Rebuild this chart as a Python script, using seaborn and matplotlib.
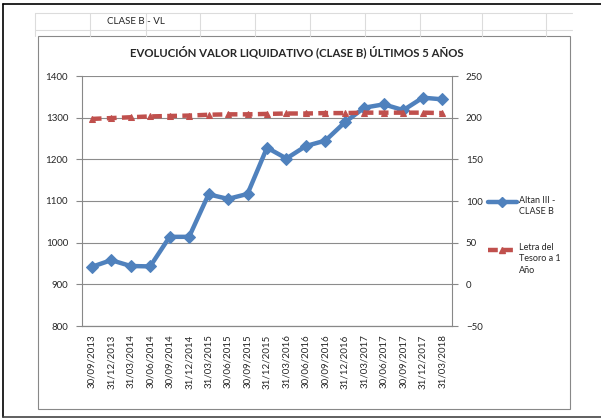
import matplotlib
matplotlib.use("Agg")
import matplotlib.pyplot as plt
import seaborn as sns
import pandas as pd
from matplotlib.lines import Line2D
from matplotlib.patches import Rectangle

fechas = ["30/09/2013", "31/12/2013", "31/03/2014", "30/06/2014", "30/09/2014",
          "31/12/2014", "31/03/2015", "30/06/2015", "30/09/2015", "31/12/2015",
          "31/03/2016", "30/06/2016", "30/09/2016", "31/12/2016", "31/03/2017",
          "30/06/2017", "30/09/2017", "31/12/2017", "31/03/2018"]
altan = [942, 958, 944, 943, 1014, 1014, 1116, 1105, 1117, 1228,
         1202, 1232, 1245, 1289, 1324, 1332, 1318, 1348, 1344]
letra = [198.5, 199.5, 200.5, 201.5, 202, 202.5, 203.5, 204, 204, 204.5,
         205, 205, 205.5, 205.5, 206, 206, 206, 206, 205.5]

sns.set_style("white")
plt.rcParams["font.family"] = ["Lato", "DejaVu Sans"]

W, H = 601, 419
fig = plt.figure(figsize=(W / 100, H / 100), dpi=100)

def fx(px):
    return px / W

def fy(py):
    return 1 - py / H

# spreadsheet background grid
grid_c = "#dcdcdc"
for gx in [35, 90, 146, 200, 255, 310, 365, 420, 482, 546]:
    fig.add_artist(Line2D([fx(gx), fx(gx)], [fy(13), fy(36)], color=grid_c, lw=0.8))
for gy in [13, 30]:
    fig.add_artist(Line2D([fx(35), fx(572)], [fy(gy), fy(gy)], color=grid_c, lw=0.8))
fig.text(fx(107), fy(22), "CLASE B - VL", fontsize=7, va="center", ha="left")

# outer frame lines
fig.add_artist(Line2D([fx(3), fx(3)], [fy(4), fy(417)], color="black", lw=1.2))
fig.add_artist(Line2D([fx(3), fx(601)], [fy(4), fy(4)], color="black", lw=1.2))
fig.add_artist(Line2D([fx(3), fx(601)], [fy(417), fy(417)], color="#444444", lw=1.2))

# chart area box
fig.add_artist(Rectangle((fx(38), fy(409)), fx(570) - fx(38), fy(36) - fy(409),
                         facecolor="white", edgecolor="#888888", lw=0.8, zorder=1))

ax = fig.add_axes([fx(82), fy(326), fx(452) - fx(82), fy(76) - fy(326)])
ax.set_zorder(2)
ax.patch.set_alpha(0)
df = pd.DataFrame({"fecha": fechas, "pos": range(len(fechas)), "altan": altan, "letra": letra})

ax2 = ax.twinx()
sns.lineplot(data=df, x="pos", y="letra", ax=ax2, color="#C0504D", lw=3.2,
             linestyle=(0, (2.2, 1.2)), marker="^", markersize=4.5,
             markeredgecolor="#C0504D", zorder=3)
sns.lineplot(data=df, x="pos", y="altan", ax=ax, color="#4F81BD", lw=3.2,
             marker="D", markersize=6, markeredgecolor="#4F81BD", zorder=4)

ax.set_ylim(800, 1400)
ax.set_yticks(range(800, 1401, 100))
ax2.set_ylim(-50, 250)
ax2.set_yticks(range(-50, 251, 50))
ax.set_xlim(-0.5, len(fechas) - 0.5)
ax.set_xticks(range(len(fechas)))
ax.set_xticklabels(fechas, rotation=90, fontsize=7)
ax.set_xticks([i - 0.5 for i in range(len(fechas) + 1)], minor=True)
ax.tick_params(axis="x", which="major", length=0, pad=6)
ax.tick_params(axis="x", which="minor", length=4, color="#888888", direction="out")
ax.tick_params(axis="y", labelsize=7, length=4, color="#888888", direction="out", pad=6)
ax2.tick_params(axis="y", labelsize=7, length=4, color="#888888", direction="out", pad=6)
ax.yaxis.grid(True, color="#8c8c8c", lw=0.8)
ax.set_axisbelow(True)
ax.set_xlabel("")
ax.set_ylabel("")
ax2.set_ylabel("")
for a in (ax, ax2):
    a.spines["top"].set_visible(False)
    a.spines["left"].set_color("#888888")
    a.spines["right"].set_color("#888888")
    a.spines["bottom"].set_color("#888888")
ax.spines["right"].set_visible(False)
ax2.spines["left"].set_visible(False)

fig.text(fx(297), fy(52), "EVOLUCIÓN VALOR LIQUIDATIVO (CLASE B) ÚLTIMOS 5 AÑOS",
         fontsize=8.2, fontweight="bold", ha="center", va="center")

# legend
fig.add_artist(Line2D([fx(488), fx(502), fx(517)], [fy(202)] * 3, color="#4F81BD", lw=3.2,
                      marker="D", markersize=5, markevery=[1], markeredgecolor="#4F81BD"))
fig.add_artist(Line2D([fx(488), fx(502), fx(517)], [fy(250)] * 3, color="#C0504D", lw=3.2,
                      linestyle=(0, (2.2, 1.2)), marker="^", markersize=4.5, markevery=[1],
                      markeredgecolor="#C0504D"))
fig.text(fx(519), fy(196), "Altan III -\nCLASE B", fontsize=6.5, va="top", ha="left",
         linespacing=1.35)
fig.text(fx(519), fy(243), "Letra del\nTesoro a 1\nAño", fontsize=6.5, va="top", ha="left",
         linespacing=1.35)

fig.savefig("out.png", dpi=100)
